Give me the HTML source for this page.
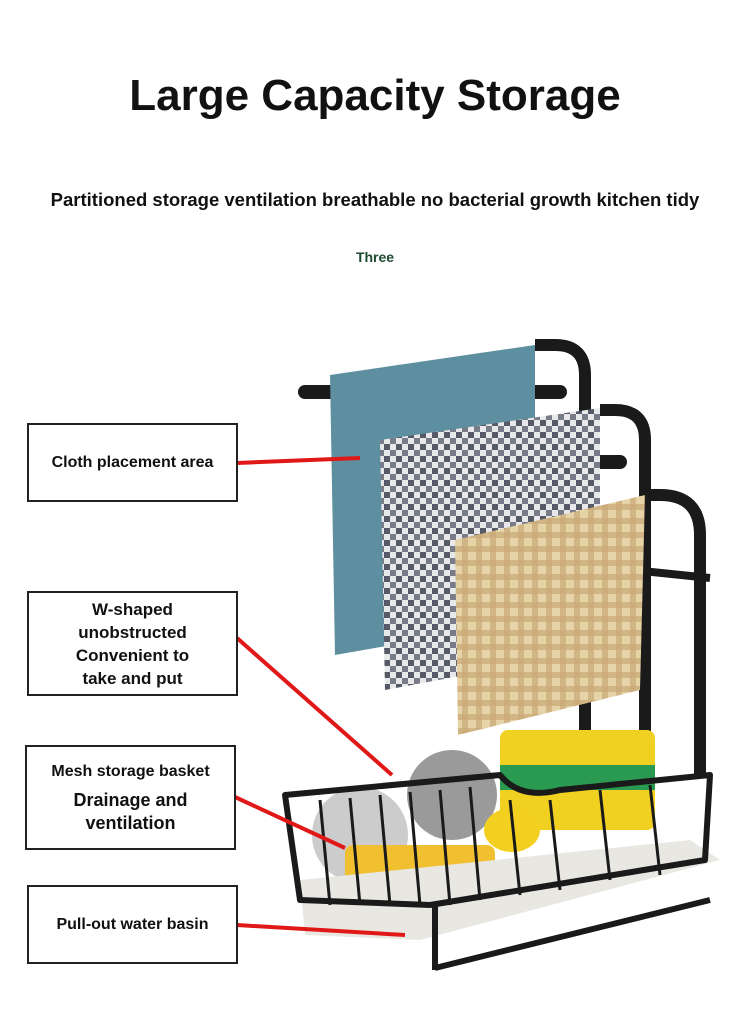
<!DOCTYPE html>
<html><head><meta charset="utf-8"><style>
body{margin:0;width:750px;height:1023px;background:#fff;position:relative;overflow:hidden;font-family:"Liberation Sans",sans-serif}
.t{position:absolute;left:0;width:750px;text-align:center;font-weight:bold;color:#111}
.box{position:absolute;border:2px solid #222;background:#fff;text-align:center;font-weight:bold;color:#111;box-sizing:border-box;display:flex;flex-direction:column;justify-content:center}
</style></head><body>
<div class="t" style="top:71px;font-size:44px">Large Capacity Storage</div>
<div class="t" style="top:189px;font-size:18.5px;left:10px;width:730px;white-space:nowrap">Partitioned storage ventilation breathable no bacterial growth kitchen tidy</div>
<div class="t" style="top:249px;font-size:14px;color:#1d4a2e">Three</div>
<svg style="position:absolute;left:0;top:0" width="750" height="1023">
<defs>
<pattern id="chk" width="12" height="12" patternUnits="userSpaceOnUse"><rect width="12" height="12" fill="#e8e8ea"/><rect width="6" height="6" fill="#555a66"/><rect x="6" y="6" width="6" height="6" fill="#777c88"/></pattern>
<pattern id="pl" width="14" height="14" patternUnits="userSpaceOnUse"><rect width="14" height="14" fill="#e6d3a8"/><rect width="6" height="14" fill="#c9a977" opacity=".7"/><rect width="14" height="6" fill="#c9a977" opacity=".7"/></pattern>
</defs>
<path d="M535 345 h20 q30 0 30 30 v360" stroke="#1a1a1a" stroke-width="12" fill="none"/>
<path d="M600 410 h15 q30 0 30 30 v300" stroke="#1a1a1a" stroke-width="12" fill="none"/>
<path d="M640 495 h20 q40 0 40 40 v240" stroke="#1a1a1a" stroke-width="12" fill="none"/>
<line x1="305" y1="392" x2="560" y2="392" stroke="#1a1a1a" stroke-width="14" stroke-linecap="round"/>
<line x1="362" y1="462" x2="620" y2="462" stroke="#1a1a1a" stroke-width="14" stroke-linecap="round"/>
<line x1="420" y1="548" x2="710" y2="578" stroke="#1a1a1a" stroke-width="8"/>
<path d="M330 375 L535 345 L535 620 L335 655 Z" fill="#5e8fa0"/>
<path d="M380 440 L600 408 L600 650 L385 690 Z" fill="url(#chk)"/>
<path d="M455 540 L645 495 L640 690 L458 735 Z" fill="url(#pl)"/>
<rect x="500" y="730" width="155" height="100" rx="8" fill="#f0d020"/>
<rect x="500" y="765" width="155" height="25" fill="#2a9a50"/>
<circle cx="452" cy="795" r="45" fill="#9a9a9a"/>
<circle cx="360" cy="835" r="48" fill="#ccc"/>
<rect x="345" y="845" width="150" height="50" rx="8" fill="#f0c030"/>
<ellipse cx="512" cy="830" rx="28" ry="22" fill="#f3d020"/>
<path d="M300 880 L690 840 L720 860 L420 940 L305 935 Z" fill="#e9e7e2"/>
<path d="M285 795 L500 775 Q520 800 560 790 L710 775 L705 860 L430 905 L300 900 Z" fill="none" stroke="#1a1a1a" stroke-width="6" stroke-linejoin="round"/>
<g stroke="#1a1a1a" stroke-width="3">
<line x1="320" y1="800" x2="330" y2="905"/><line x1="350" y1="798" x2="360" y2="905"/><line x1="380" y1="795" x2="390" y2="905"/><line x1="410" y1="792" x2="420" y2="905"/><line x1="440" y1="790" x2="450" y2="905"/><line x1="470" y1="787" x2="480" y2="900"/><line x1="510" y1="800" x2="520" y2="895"/><line x1="550" y1="800" x2="560" y2="890"/><line x1="600" y1="790" x2="610" y2="880"/><line x1="650" y1="785" x2="660" y2="875"/>
</g>
<line x1="435" y1="905" x2="435" y2="970" stroke="#1a1a1a" stroke-width="6"/>
<line x1="435" y1="968" x2="710" y2="900" stroke="#1a1a1a" stroke-width="6"/>
<g stroke="#e01818" stroke-width="4">
<line x1="237" y1="463" x2="360" y2="458"/>
<line x1="237" y1="638" x2="392" y2="775"/>
<line x1="235" y1="797" x2="345" y2="848"/>
<line x1="237" y1="925" x2="405" y2="935"/>
</g>
</svg>
<div class="box" style="left:27px;top:423px;width:211px;height:79px;font-size:16px">Cloth placement area</div>
<div class="box" style="left:27px;top:591px;width:211px;height:105px;font-size:17px;line-height:23px">W-shaped<br>unobstructed<br>Convenient to<br>take and put</div>
<div class="box" style="left:25px;top:745px;width:211px;height:105px;font-size:16px;line-height:23px">Mesh storage basket<br><span style="font-size:18px;margin-top:6px">Drainage and<br>ventilation</span></div>
<div class="box" style="left:27px;top:885px;width:211px;height:79px;font-size:16px">Pull-out water basin</div>
</body></html>
